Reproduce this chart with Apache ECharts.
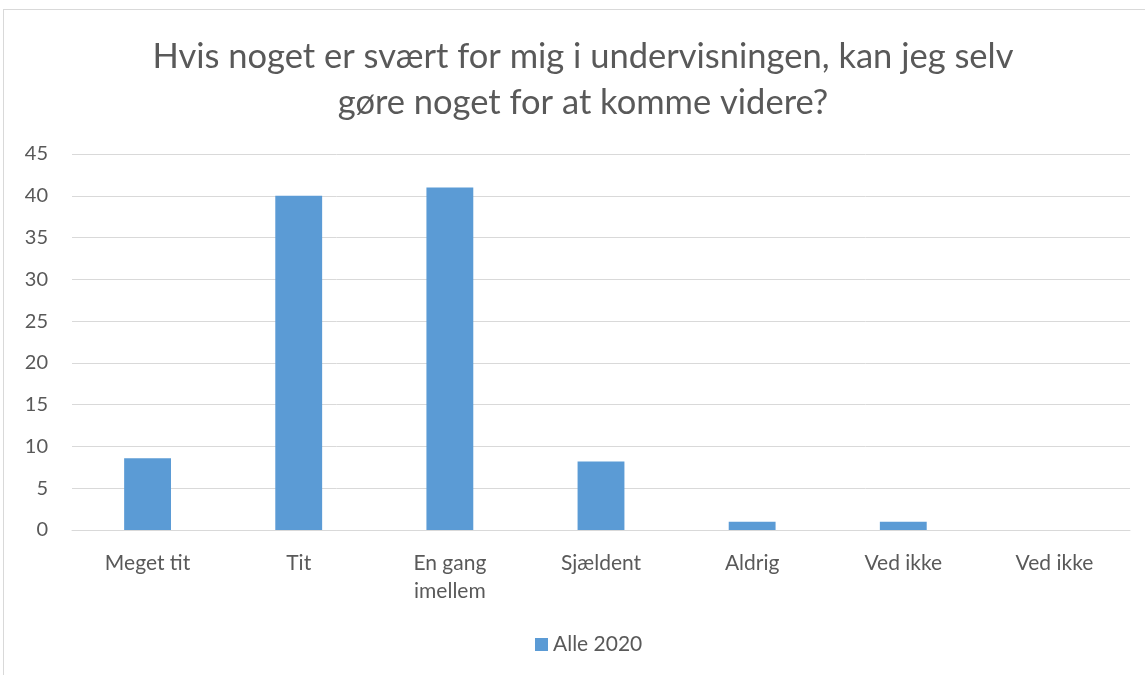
<!DOCTYPE html>
<html lang="da">
<head>
<meta charset="UTF-8">
<title>Hvis noget er svært</title>
<script src="https://cdn.jsdelivr.net/npm/echarts@6/dist/echarts.min.js"></script>
<style>
  html, body { margin: 0; padding: 0; background: #fff; }
  #main { width: 1145px; height: 675px; }
  #frame { position: absolute; left: 3px; top: 9px; width: 1150px; height: 680px;
           border-left: 1px solid #d9d9d9; border-top: 1px solid #d9d9d9; pointer-events: none; }
</style>
</head>
<body>
<div id="main"></div>
<div id="frame"></div>
<script>
  const categories = ['Meget tit', 'Tit', 'En gang\nimellem', 'Sjældent', 'Aldrig', 'Ved ikke', 'Ved ikke'];
  const alle2020 = [8.6, 40, 41, 8.2, 1, 1, 0];
  const seriesName = 'Alle 2020';
  const titleText = 'Hvis noget er svært for mig i undervisningen, kan jeg selv\ngøre noget for at komme videre?';

  const font = 'Lato, "Open Sans", sans-serif';
  const chart = echarts.init(document.getElementById('main'));

  chart.setOption({
    backgroundColor: '#fff',
    animation: false,
    title: {
      text: titleText,
      left: 578,
      textAlign: 'center',
      top: 29,
      textStyle: { fontFamily: font, fontSize: 34.5, fontWeight: 'normal', color: '#595959', lineHeight: 46 }
    },
    legend: {
      bottom: 15,
      left: 530,
      icon: 'rect',
      itemWidth: 13,
      itemHeight: 13,
      itemGap: 5,
      textStyle: { fontFamily: font, fontSize: 21, color: '#595959' },
      data: [seriesName]
    },
    grid: { left: 72, right: 15, top: 154, bottom: 145, containLabel: false },
    xAxis: {
      type: 'category',
      data: categories,
      axisTick: { show: false },
      axisLine: { lineStyle: { color: '#d9d9d9', width: 1 } },
      axisLabel: { fontFamily: font, fontSize: 21, color: '#595959', margin: 19, lineHeight: 28, interval: 0 }
    },
    yAxis: {
      type: 'value',
      min: 0,
      max: 45,
      interval: 5,
      axisLine: { show: false },
      axisTick: { show: false },
      splitLine: { lineStyle: { color: '#d9d9d9', width: 1 } },
      axisLabel: { fontFamily: font, fontSize: 20, color: '#595959', margin: 24 }
    },
    series: [{
      name: seriesName,
      type: 'bar',
      data: alle2020,
      barWidth: '31%',
      itemStyle: { color: '#5b9bd5' }
    }]
  });
</script>
</body>
</html>
